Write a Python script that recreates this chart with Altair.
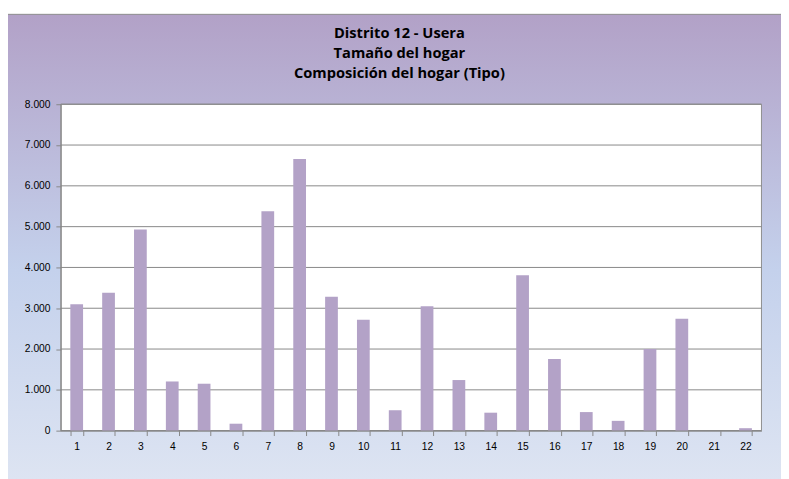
import altair as alt
import pandas as pd

categorias = [str(i) for i in range(1, 23)]
valores = [3100, 3380, 4930, 1205, 1150, 170, 5380, 6660, 3280, 2720, 500,
           3050, 1240, 440, 3810, 1755, 455, 240, 2000, 2745, 0, 60]
ticks_y = [0, 1000, 2000, 3000, 4000, 5000, 6000, 7000, 8000]
titulo = ["Distrito 12 - Usera", "Tamaño del hogar", "Composición del hogar (Tipo)"]

W, H = 717, 334

df = pd.DataFrame({"tipo": categorias, "valor": valores})
df_grid = pd.DataFrame({"valor": ticks_y})
df_one = pd.DataFrame({"a": [0]})

yscale = alt.Scale(domain=[0, 8000])
xscale = alt.Scale(paddingInner=0.6, paddingOuter=0.3)

yaxis = alt.Axis(values=ticks_y, grid=False, tickSize=5, labelPadding=6,
                 labelExpr="replace(format(datum.value, ','), ',', '.')",
                 labelFont="Liberation Sans", labelFontSize=10.5, labelColor="#000000",
                 domainColor="#868686", tickColor="#868686", zindex=1)

fondo = alt.Chart(df_one).mark_rect(
    fill=alt.Gradient(
        gradient="linear", x1=0, x2=0, y1=0, y2=1,
        stops=[alt.GradientStop(color="#B2A1C7", offset=0),
               alt.GradientStop(color="#C4D1EC", offset=0.55),
               alt.GradientStop(color="#DDE4F2", offset=1)]),
    stroke="#8C8C8C", strokeWidth=1,
).encode(x=alt.value(-59), x2=alt.value(W + 24), y=alt.value(-92), y2=alt.value(H + 50))

area = alt.Chart(df_one).mark_rect(fill="white", stroke="#8C8C8C", strokeWidth=1).encode(
    x=alt.value(0), x2=alt.value(W), y=alt.value(0), y2=alt.value(H))

grid = alt.Chart(df_grid).mark_rule(color="#868686", strokeWidth=1).encode(
    y=alt.Y("valor:Q", scale=yscale, title=None, axis=yaxis),
    x=alt.value(0), x2=alt.value(W))

barras = alt.Chart(df).mark_bar(color="#B3A2C7").encode(
    x=alt.X("tipo:N", sort=categorias, scale=xscale, title=None,
            axis=alt.Axis(labelAngle=0, tickBand="extent", tickSize=5, labelPadding=6,
                          labelFont="Liberation Sans", labelFontSize=10.5, labelColor="#000000",
                          domainColor="#868686", tickColor="#868686", zindex=1)),
    y=alt.Y("valor:Q", scale=yscale, title=None, axis=yaxis),
)

chart = alt.layer(fondo, area, grid, barras).properties(
    width=W, height=H,
    title=alt.TitleParams(text=titulo, anchor="middle", frame="group", dx=-12,
                          offset=-69, font="Open Sans",
                          fontSize=15, fontWeight="bold", color="#000000", lineHeight=20.5),
    padding={"left": 54, "top": 93, "right": 20, "bottom": 44},
    autosize=alt.AutoSizeParams(type="none"),
).configure_view(stroke=None)

chart.save("out.html", embed_options={"renderer": "svg", "actions": False})
